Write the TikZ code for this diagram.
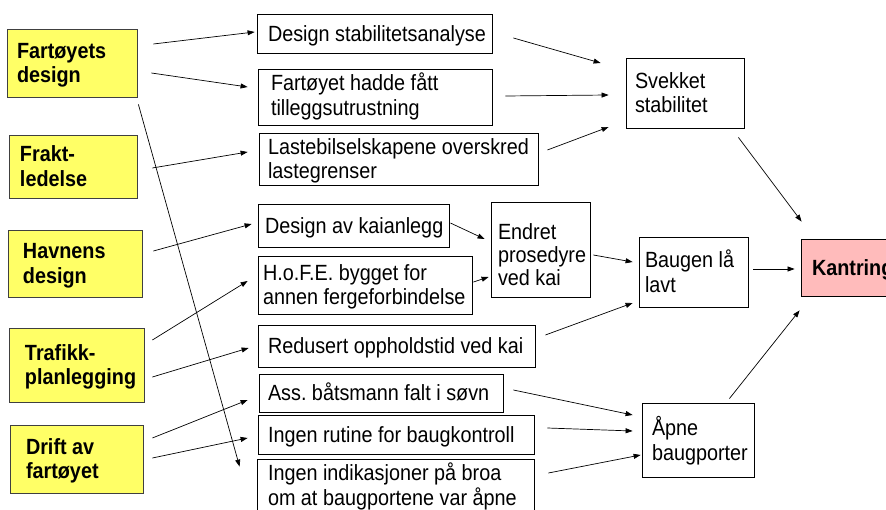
\documentclass[tikz,border=0pt]{standalone}
\usepackage{fontspec}
\setmainfont[FakeStretch=0.9]{Liberation Sans}
\usetikzlibrary{arrows.meta,calc}
\definecolor{yfill}{HTML}{FFFF66}
\definecolor{pfill}{HTML}{FFBBBB}
\def\zsh{20pt}\def\zsd{4.5pt}
\newcommand\zs{\vrule height\zsh\space depth\zsd\space width 0pt\relax}
\renewcommand\arraystretch{0}
\frenchspacing
\newcommand\bx[8][ev]{%
  \pgfmathsetmacro\bw{#5-#3}\pgfmathsetmacro\bh{#6-#4}%
  \node[#1, minimum width=\bw pt, minimum height=\bh pt]
    (#2) at ({(#3+#5)/2},{(#4+#6)/2})
    {\makebox[\bw pt][l]{\hspace*{#7pt}\begin{tabular}[t]{@{}l@{}}#8\end{tabular}}};}
\tikzset{
  ev/.style={draw=black, line width=0.8pt, fill=white, inner sep=0pt,
    font=\fontsize{22}{24.5}\selectfont\frenchspacing},
  cause/.style={ev, fill=yfill, draw=black!75, font=\fontsize{22}{24.5}\selectfont\bfseries},
  topev/.style={ev, fill=pfill, font=\fontsize{22}{24.5}\selectfont\bfseries},
  arr/.style={-{Triangle[length=7pt,width=5pt]}, line width=0.7pt}
}
\begin{document}
\begin{tikzpicture}[x=1pt,y=-1pt]
\useasboundingbox (0,0) rectangle (886,510);
\clip (0,0) rectangle (886,510);
% causes
\bx[cause]{fd}{7}{29}{137}{97}{10}{\zs Fartøyets\\\zs design}
\bx[cause]{fr}{9}{135}{137}{198}{11}{\zs Frakt-\\\zs ledelse}
\bx[cause]{hd}{8}{230}{142}{297}{15}{\zs Havnens\\\zs design}
\bx[cause]{tp}{9}{328}{144}{402}{16}{\zs Trafikk-\\\zs planlegging}
\bx[cause]{dr}{10}{425}{143}{493}{16}{\zs Drift av\\\zs fartøyet}
% middle
\bx{ds}{257}{14}{492}{53}{11}{\zs Design stabilitetsanalyse}
\bx[ev,text height=18pt,text depth=30.5pt]{ft}{258}{69}{492}{125}{13}{\zs Fartøyet hadde fått\\\zs tilleggsutrustning}
\bx{lb}{259}{133}{538}{185}{9}{\zs Lastebilselskapene overskred\\\zs lastegrenser}
\bx{dk}{258}{204}{449}{247}{7}{\zs Design av kaianlegg}
\bx{hf}{258}{256}{472}{314}{5}{\zs H.o.F.E. bygget for\\\zs annen fergeforbindelse}
\bx[ev,execute at begin node={\def\zsh{18.5pt}},text height=24.5pt,text depth=44.5pt]{ep}{491}{202}{590}{297}{7}{\zs Endret\\\zs prosedyre\\\zs ved kai}
\bx{ro}{258}{325}{535}{367}{10}{\zs Redusert oppholdstid ved kai}
\bx{as}{259}{374}{503}{412}{9}{\zs Ass. båtsmann falt i søvn}
\bx{ir}{258}{415}{534}{454}{10}{\zs Ingen rutine for baugkontroll}
\bx{ii}{257}{459}{534}{512}{11}{\zs Ingen indikasjoner på broa\\\zs om at baugportene var åpne}
% right
\bx{sv}{626}{58}{744}{128}{9}{\zs Svekket\\\zs stabilitet}
\bx{bl}{639}{237}{748}{307}{6}{\zs Baugen lå\\\zs lavt}
\bx[topev]{ka}{801}{239}{905}{296}{11}{\zs Kantring}
\bx{ab}{642}{403}{754}{477}{10}{\zs Åpne\\\zs baugporter}
% arrows
\draw[arr] ($(fd.east)+(16,-19)$) -- ($(ds.west)+(-2,-1.5)$);
\draw[arr] ($(fd.east)+(14,10)$) -- ($(ft.west)+(-10,-10)$);
\draw[arr] ($(fd.south east)+(1,7)$) -- ($(ii.north west)+(-17,8)$);
\draw[arr] ($(fr.east)+(15,1.5)$) -- ($(lb.west)+(-11,-7)$);
\draw[arr] ($(hd.east)+(11,-12.5)$) -- ($(dk.west)+(-6,-1.5)$);
\draw[arr] ($(tp.east)+(8,-25)$) -- ($(hf.west)+(-10,-4)$);
\draw[arr] ($(tp.east)+(8,12)$) -- ($(ro.west)+(-9,2)$);
\draw[arr] ($(dr.east)+(9,-21)$) -- ($(as.west)+(-11,7)$);
\draw[arr] ($(dr.east)+(9,-1)$) -- ($(ir.west)+(-10,3.5)$);
\draw[arr] ($(ds.east)+(21,4.5)$) -- ($(sv.west)+(-25,-30)$);
\draw[arr] ($(ft.east)+(13,-1)$) -- ($(sv.west)+(-17,2)$);
\draw[arr] ($(lb.east)+(9,-9)$) -- ($(sv.west)+(-17,34)$);
\draw[arr] ($(dk.east)+(1,-2.5)$) -- ($(ep.west)+(-6,-10.5)$);
\draw[arr] ($(hf.east)+(1,-3)$) -- ($(ep.west)+(-2,27.5)$);
\draw[arr] ($(ep.east)+(3,5.5)$) -- ($(bl.west)+(-6,-10)$);
\draw[arr] ($(ro.east)+(10,-11)$) -- ($(bl.west)+(-6,31)$);
\draw[arr] ($(bl.east)+(5,-3)$) -- ($(ka.west)+(-6,1.5)$);
\draw[arr] ($(sv.south east)+(-6,9)$) -- ($(ka.north west)+(1,-17)$);
\draw[arr] ($(ab.north east)+(-25,-4)$) -- ($(ka.south west)+(-1,14)$);
\draw[arr] ($(as.east)+(10,-3)$) -- ($(ab.west)+(-9,-25)$);
\draw[arr] ($(ir.east)+(13,-6.5)$) -- ($(ab.west)+(-9,-9)$);
\draw[arr] ($(ii.east)+(14,-12.5)$) -- ($(ab.west)+(-1,15)$);
\end{tikzpicture}
\end{document}
